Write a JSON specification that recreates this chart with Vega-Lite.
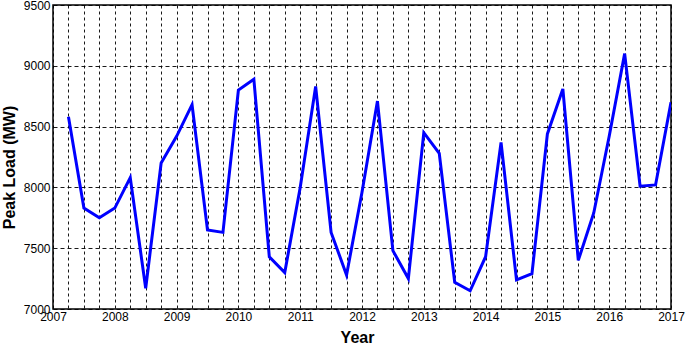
{
  "$schema": "https://vega.github.io/schema/vega-lite/v6.json",
  "width": 618,
  "height": 304,
  "autosize": "none",
  "padding": {"left": 53, "top": 5, "right": 14, "bottom": 40},
  "background": "white",
  "config": {
    "view": {"stroke": "black", "strokeWidth": 1.5},
    "font": "Liberation Sans"
  },
  "data": {
    "values": [
      {"t": 2007.25, "load": 8580},
      {"t": 2007.5, "load": 7830},
      {"t": 2007.75, "load": 7750},
      {"t": 2008.0, "load": 7830},
      {"t": 2008.25, "load": 8080},
      {"t": 2008.5, "load": 7170},
      {"t": 2008.75, "load": 8200},
      {"t": 2009.0, "load": 8420},
      {"t": 2009.25, "load": 8680},
      {"t": 2009.5, "load": 7650},
      {"t": 2009.75, "load": 7630},
      {"t": 2010.0, "load": 8800},
      {"t": 2010.25, "load": 8890},
      {"t": 2010.5, "load": 7430},
      {"t": 2010.75, "load": 7300},
      {"t": 2011.0, "load": 8000},
      {"t": 2011.25, "load": 8830},
      {"t": 2011.5, "load": 7630},
      {"t": 2011.75, "load": 7280},
      {"t": 2012.0, "load": 7960},
      {"t": 2012.25, "load": 8710},
      {"t": 2012.5, "load": 7480},
      {"t": 2012.75, "load": 7250},
      {"t": 2013.0, "load": 8450},
      {"t": 2013.25, "load": 8280},
      {"t": 2013.5, "load": 7220},
      {"t": 2013.75, "load": 7150},
      {"t": 2014.0, "load": 7430},
      {"t": 2014.25, "load": 8370},
      {"t": 2014.5, "load": 7240},
      {"t": 2014.75, "load": 7290},
      {"t": 2015.0, "load": 8440},
      {"t": 2015.25, "load": 8810},
      {"t": 2015.5, "load": 7400},
      {"t": 2015.75, "load": 7790},
      {"t": 2016.0, "load": 8420},
      {"t": 2016.25, "load": 9100},
      {"t": 2016.5, "load": 8010},
      {"t": 2016.75, "load": 8020},
      {"t": 2017.0, "load": 8700}
    ]
  },
  "mark": {"type": "line", "color": "#0000ff", "strokeWidth": 3, "clip": true},
  "encoding": {
    "x": {
      "field": "t",
      "type": "quantitative",
      "title": "Year",
      "scale": {"domain": [2007, 2017], "nice": false, "zero": false},
      "axis": {
        "values": [2007, 2007.25, 2007.5, 2007.75, 2008, 2008.25, 2008.5, 2008.75, 2009, 2009.25, 2009.5, 2009.75, 2010, 2010.25, 2010.5, 2010.75, 2011, 2011.25, 2011.5, 2011.75, 2012, 2012.25, 2012.5, 2012.75, 2013, 2013.25, 2013.5, 2013.75, 2014, 2014.25, 2014.5, 2014.75, 2015, 2015.25, 2015.5, 2015.75, 2016, 2016.25, 2016.5, 2016.75, 2017],
        "labelExpr": "datum.value % 1 === 0 ? format(datum.value, 'd') : ''",
        "labelFontSize": 12,
        "labelColor": "black",
        "labelPadding": 2,
        "labelOverlap": false,
        "labelFlush": false,
        "ticks": false,
        "domain": false,
        "grid": true,
        "gridColor": "black",
        "gridDash": [3, 3],
        "gridWidth": 1,
        "gridOpacity": 0.9,
        "titleFontSize": 16,
        "titleFontWeight": "bold",
        "titleColor": "black",
        "titlePadding": 7,
        "titleX": 304
      }
    },
    "y": {
      "field": "load",
      "type": "quantitative",
      "title": "Peak Load (MW)",
      "scale": {"domain": [7000, 9500], "nice": false, "zero": false},
      "axis": {
        "values": [7000, 7500, 8000, 8500, 9000, 9500],
        "format": "d",
        "labelFontSize": 12,
        "labelColor": "black",
        "labelPadding": 3,
        "ticks": false,
        "domain": false,
        "grid": true,
        "gridColor": "black",
        "gridDash": [4, 3],
        "gridWidth": 1,
        "gridOpacity": 0.9,
        "titleFontSize": 16,
        "titleFontWeight": "bold",
        "titleColor": "black",
        "titlePadding": 6,
        "titleY": 162
      }
    }
  }
}
